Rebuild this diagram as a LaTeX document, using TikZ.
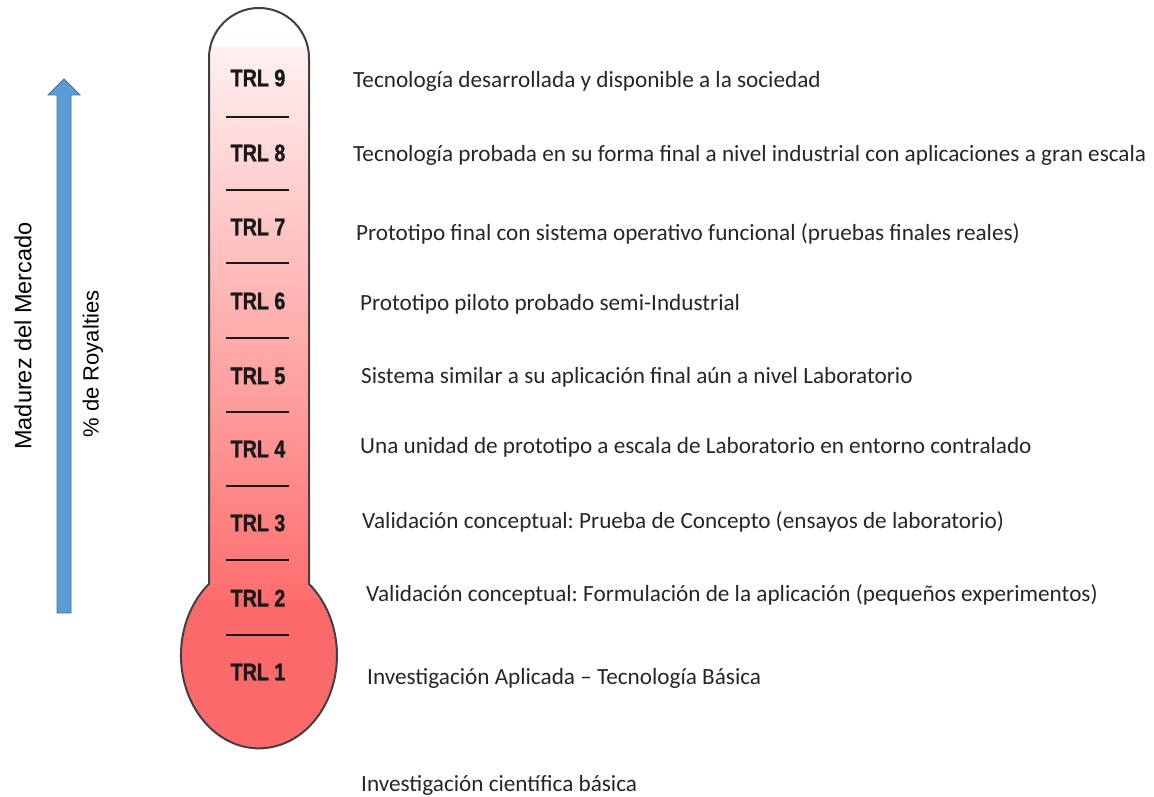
\documentclass[tikz,border=0pt]{standalone}
\usepackage{fontspec}
\setmainfont{Carlito}
\newfontfamily\arialfont{Liberation Sans}
\newfontfamily\trlfont[FakeStretch=0.82,FakeBold=1.2]{Liberation Sans}
\frenchspacing
\definecolor{tTop}{RGB}{255,240,240}
\definecolor{tBot}{RGB}{255,110,110}
\definecolor{tBulb}{RGB}{250,106,106}
\definecolor{arrFill}{RGB}{91,155,213}
\definecolor{arrLine}{RGB}{65,113,156}
\definecolor{txt}{RGB}{38,38,38}
\tikzset{
  desc/.style={anchor=base west, inner sep=0pt, text=txt, font=\fontsize{23.2}{27}\selectfont},
  trl/.style={inner sep=0pt, text=black!90, font=\trlfont\bfseries\fontsize{24}{28}\selectfont},
  tickline/.style={line width=2.8pt, draw=black!90},
  outline/.style={line width=2pt, draw=black!75},
  side/.style={inner sep=0pt, text=black, rotate=90},
  bluearrow/.style={fill=arrFill, draw=arrLine, line width=0.8pt}
}
\begin{document}
\begin{tikzpicture}[x=1pt,y=1pt]
\useasboundingbox (0,0) rectangle (1154,-797);
\def\thermo{(209,-584) -- (209,-58) arc[start angle=180,end angle=0,radius=50] -- (309,-584) arc[start angle=50.1,end angle=-229.9,x radius=78,y radius=93] -- cycle}
% thermometer body
\begin{scope}
\clip \thermo;
\fill[white] (150,0) rectangle (360,-48);
\shade[top color=tTop, bottom color=tBot] (150,-48) rectangle (360,-600);
\fill[tBulb] (150,-600) rectangle (360,-760);
\end{scope}
\draw[outline] \thermo;
% tick lines
\foreach \yy in {117,190,263,338,412,486,560,635}
  \draw[tickline] (226,-\yy) -- (289,-\yy);
% TRL labels
\node[trl] (t9) at (258,-78) {TRL 9};
\node[trl] (t8) at (258,-153) {TRL 8};
\node[trl] (t7) at (258,-227) {TRL 7};
\node[trl] (t6) at (258,-301) {TRL 6};
\node[trl] (t5) at (258,-376) {TRL 5};
\node[trl] (t4) at (258,-449) {TRL 4};
\node[trl] (t3) at (258,-523) {TRL 3};
\node[trl] (t2) at (258,-598) {TRL 2};
\node[trl] (t1) at (258,-672) {TRL 1};
% descriptions
\node[desc] (d9) at (353,-88) {Tecnología desarrollada y disponible a la sociedad};
\node[desc] (d8) at (353,-161) {Tecnología probada en su forma final a nivel industrial con aplicaciones a gran escala};
\node[desc] (d7) at (356,-240) {Prototipo final con sistema operativo funcional (pruebas finales reales)};
\node[desc] (d6) at (360,-310) {Prototipo piloto probado semi-Industrial};
\node[desc] (d5) at (361,-383) {Sistema similar a su aplicación final aún a nivel Laboratorio};
\node[desc] (d4) at (360,-453) {Una unidad de prototipo a escala de Laboratorio en entorno contralado};
\node[desc] (d3) at (362,-528) {Validación conceptual: Prueba de Concepto (ensayos de laboratorio)};
\node[desc] (d2) at (366,-601) {Validación conceptual: Formulación de la aplicación (pequeños experimentos)};
\node[desc] (d1) at (367,-684) {Investigación Aplicada – Tecnología Básica};
\node[desc] (d0) at (361,-791) {Investigación científica básica};
% blue arrow
\draw[bluearrow] (57,-613) -- (57,-95) -- (48,-95) -- (64,-79) -- (80,-95) -- (71,-95) -- (71,-613) -- cycle;
% side labels
\node[side, font=\arialfont\fontsize{23.5}{27}\selectfont] (madurez) at (23,-336) {Madurez del Mercado};
\node[side, font=\arialfont\fontsize{22}{26}\selectfont] (royal) at (93,-364) {\% de Royalties};
\end{tikzpicture}
\end{document}
